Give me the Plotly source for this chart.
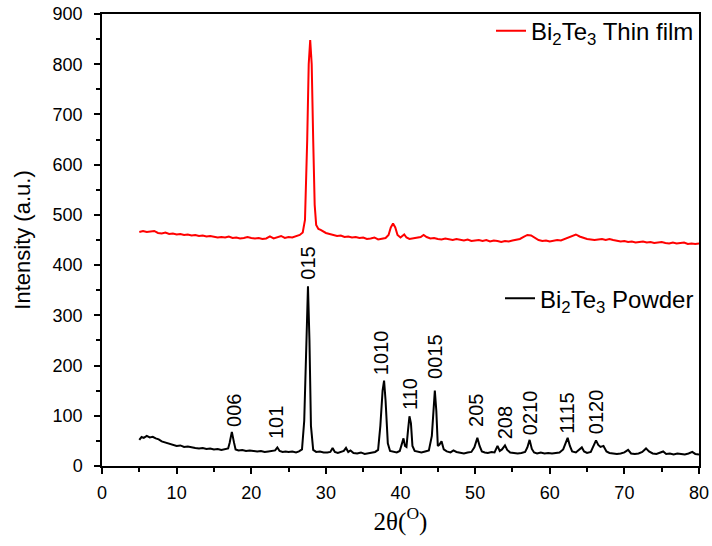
import plotly.graph_objects as go

# ---- Data ----
powder_x = [5.0, 5.3, 5.6, 6.0, 6.4, 6.8, 7.2, 7.6, 8.0, 8.5, 9.0, 9.5, 10.0, 10.5, 11.0, 11.5, 12.0, 12.5,
            13.0, 13.5, 14.0, 14.5, 15.0, 15.5, 16.0, 16.5, 16.9, 17.1, 17.4, 17.7, 17.9, 18.3, 18.8, 19.3,
            19.8, 20.3, 20.8, 21.3, 21.8, 22.3, 22.8, 23.2, 23.5, 23.8, 24.2, 24.6, 25.0, 25.5, 26.0, 26.4,
            26.8, 27.1, 27.4, 27.6, 27.8, 28.0, 28.3, 28.7, 29.2, 29.7, 30.2, 30.6, 30.9, 31.2, 31.6, 32.0,
            32.4, 32.7, 33.0, 33.3, 33.7, 34.2, 34.7, 35.2, 35.7, 36.2, 36.6, 37.0, 37.3, 37.6, 37.8, 38.0,
            38.3, 38.6, 39.0, 39.5, 39.9, 40.2, 40.4, 40.6, 40.8, 41.0, 41.2, 41.4, 41.6, 41.9, 42.3, 42.8,
            43.3, 43.8, 44.2, 44.4, 44.6, 44.8, 45.0, 45.2, 45.5, 45.8, 46.2, 46.7, 47.1, 47.5, 48.0, 48.5,
            49.0, 49.5, 49.9, 50.3, 50.6, 50.9, 51.3, 51.7, 52.2, 52.6, 53.0, 53.3, 53.6, 54.0, 54.3, 54.7,
            55.2, 55.7, 56.2, 56.7, 57.0, 57.3, 57.6, 57.9, 58.3, 58.8, 59.3, 59.8, 60.3, 60.8, 61.3, 61.8,
            62.1, 62.4, 62.7, 63.0, 63.5, 63.9, 64.3, 64.6, 65.0, 65.5, 65.9, 66.2, 66.5, 66.8, 67.2, 67.6,
            68.0, 68.5, 69.0, 69.5, 70.0, 70.5, 70.9, 71.4, 71.9, 72.4, 72.9, 73.3, 73.8, 74.3, 74.8, 75.2,
            75.6, 76.1, 76.6, 77.1, 77.6, 78.1, 78.6, 79.1, 79.5, 80.0]
powder_y = [52, 58, 56, 60, 57, 58, 55, 53, 49, 47, 44, 43, 40, 41, 38, 39, 37, 36,
            35, 36, 34, 35, 33, 34, 32, 33, 35, 46, 68, 46, 33, 31, 32, 30,
            31, 30, 29, 30, 28, 29, 30, 31, 37, 30, 28, 29, 28, 29, 27, 29,
            33, 90, 250, 358, 250, 80, 32, 28, 29, 27, 27, 28, 36, 28, 26, 28,
            30, 36, 28, 31, 26, 25, 27, 24, 25, 26, 28, 32, 80, 150, 170, 130,
            45, 30, 28, 27, 30, 45, 55, 40, 38, 70, 99, 85, 40, 30, 28, 27,
            29, 31, 60, 120, 150, 110, 40, 42, 49, 33, 29, 27, 31, 28, 26, 25,
            27, 28, 37, 56, 40, 29, 27, 26, 28, 27, 40, 30, 33, 41, 32, 27,
            26, 25, 26, 28, 37, 52, 34, 27, 25, 27, 25, 26, 25, 26, 27, 33,
            45, 56, 40, 29, 27, 32, 37, 29, 26, 28, 40, 51, 42, 38, 40, 29,
            26, 25, 24, 25, 27, 32, 25, 24, 25, 28, 35, 29, 25, 24, 26, 29,
            24, 25, 23, 25, 24, 23, 25, 28, 24, 23]

film_x = [5.0, 5.5, 6.0, 6.5, 7.0, 7.5, 8.0, 8.5, 9.0, 9.5, 10.0, 10.5, 11.0, 11.5, 12.0, 12.5, 13.0, 13.5,
          14.0, 14.5, 15.0, 15.5, 16.0, 16.5, 17.0, 17.5, 18.0, 18.5, 19.0, 19.5, 20.0, 20.5, 21.0, 21.5,
          22.0, 22.5, 23.0, 23.5, 24.0, 24.5, 25.0, 25.5, 26.0, 26.5, 26.9, 27.2, 27.5, 27.7, 27.9, 28.1,
          28.3, 28.5, 28.7, 29.0, 29.3, 29.7, 30.0, 30.5, 31.0, 31.5, 32.0, 32.5, 33.0, 33.5, 34.0, 34.5,
          35.0, 35.5, 36.0, 36.5, 37.0, 37.5, 38.0, 38.4, 38.7, 39.0, 39.3, 39.6, 40.0, 40.5, 40.8, 41.2,
          41.7, 42.2, 42.7, 43.1, 43.5, 44.0, 44.5, 45.0, 45.5, 46.0, 46.5, 47.0, 47.5, 48.0, 48.5, 49.0,
          49.5, 50.0, 50.5, 51.0, 51.5, 52.0, 52.5, 53.0, 53.5, 54.0, 54.5, 55.0, 55.5, 56.0, 56.5, 57.0,
          57.5, 58.0, 58.5, 59.0, 59.5, 60.0, 60.5, 61.0, 61.5, 62.0, 62.5, 63.0, 63.5, 64.0, 64.5, 65.0,
          65.5, 66.0, 66.5, 67.0, 67.5, 68.0, 68.5, 69.0, 69.5, 70.0, 70.5, 71.0, 71.5, 72.0, 72.5, 73.0,
          73.5, 74.0, 74.5, 75.0, 75.5, 76.0, 76.5, 77.0, 77.5, 78.0, 78.5, 79.0, 79.5, 80.0]
film_y = [466, 468, 466, 467, 468, 464, 463, 465, 462, 463, 461, 462, 460, 461, 459, 460, 458, 459,
          457, 458, 457, 455, 456, 455, 457, 454, 455, 453, 454, 456, 454, 453, 454, 452,
          453, 457, 453, 455, 458, 454, 456, 455, 457, 460, 465, 490, 650, 800, 848, 800,
          650, 520, 480, 472, 470, 466, 464, 462, 460, 458, 459, 456, 457, 455, 456, 454,
          455, 452, 453, 455, 451, 452, 454, 460, 475, 483, 475, 460, 455, 461, 455, 452,
          453, 455, 456, 460, 456, 453, 454, 452, 451, 453, 451, 450, 452, 450, 449, 451,
          448, 449, 450, 448, 450, 447, 449, 448, 446, 448, 447, 449, 450, 452, 456, 460,
          459, 454, 450, 448, 449, 447, 449, 450, 449, 452, 454, 458, 461, 457, 454, 452,
          451, 450, 451, 452, 450, 452, 450, 448, 447, 448, 446, 447, 445, 446, 447, 445,
          446, 444, 445, 446, 444, 443, 445, 443, 444, 445, 442, 443, 442, 443]

peak_labels = ["006", "101", "015", "1010", "110", "0015", "205", "208", "0210", "1115", "0120"]
peak_label_x = [17.7, 23.4, 27.6, 37.4, 41.3, 44.6, 50.2, 54.0, 57.4, 62.3, 66.3]
peak_label_y = [73, 50, 368, 176, 108, 170, 74, 50, 57, 60, 60]

x_ticks = [0, 10, 20, 30, 40, 50, 60, 70, 80]
y_ticks = [0, 100, 200, 300, 400, 500, 600, 700, 800, 900]

SANS = "Liberation Sans, Arial, sans-serif"

fig = go.Figure()
fig.add_trace(go.Scatter(x=film_x, y=film_y, mode="lines",
                         line=dict(color="#ff0000", width=2),
                         name="Bi<sub>2</sub>Te<sub>3</sub> Thin film", legend="legend"))
fig.add_trace(go.Scatter(x=powder_x, y=powder_y, mode="lines",
                         line=dict(color="#000000", width=2),
                         name="Bi<sub>2</sub>Te<sub>3</sub> Powder", legend="legend2"))

for t, px, py in zip(peak_labels, peak_label_x, peak_label_y):
    fig.add_annotation(x=px, y=py, text=t, textangle=-90, showarrow=False,
                       xanchor="center", yanchor="bottom",
                       font=dict(family=SANS, size=20, color="black"))

axis_common = dict(showgrid=False, zeroline=False, showline=True, linecolor="black",
                   linewidth=1.5, mirror=True, ticks="outside", ticklen=6, tickwidth=1.5,
                   tickcolor="black", automargin=False,
                   tickfont=dict(family=SANS, size=18, color="black"))

fig.update_xaxes(range=[0, 80], tickvals=x_ticks, ticklabelstandoff=4,
                 minor=dict(dtick=5, ticks="outside", ticklen=4, tickwidth=1.5, tickcolor="black"),
                 title=dict(text="2θ(<sup>O</sup>)", standoff=10,
                            font=dict(family="Liberation Serif, Times New Roman, serif", size=25, color="black")),
                 **axis_common)
fig.update_yaxes(range=[0, 900], tickvals=y_ticks, ticklabelstandoff=8,
                 minor=dict(dtick=50, ticks="outside", ticklen=4, tickwidth=1.5, tickcolor="black"),
                 title=dict(text="Intensity (a.u.)", standoff=16,
                            font=dict(family=SANS, size=22, color="black")),
                 **axis_common)

legend_common = dict(bgcolor="rgba(0,0,0,0)", borderwidth=0,
                     font=dict(family=SANS, size=24, color="black"),
                     xanchor="right", x=1.0)
fig.update_layout(
    width=712, height=546,
    margin=dict(l=102, r=13, t=9, b=80),
    paper_bgcolor="white", plot_bgcolor="white",
    showlegend=True,
    legend=dict(y=1.012, yanchor="top", **legend_common),
    legend2=dict(y=0.37, yanchor="middle", **legend_common),
)

fig.write_html("out.html", config={"displayModeBar": False},
               post_script="document.body.style.margin='0px';")
